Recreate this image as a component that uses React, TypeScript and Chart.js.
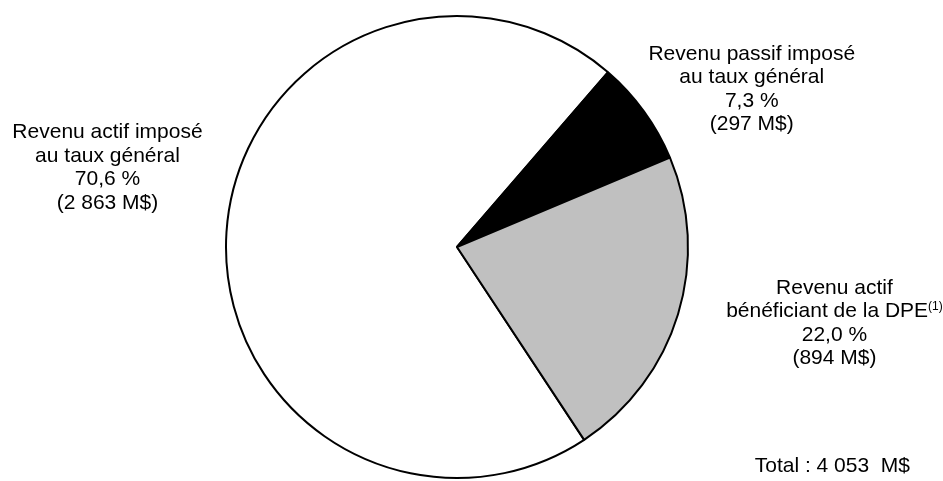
import React, { useEffect, useRef } from "react";
import { Chart, registerables } from "chart.js";

Chart.register(...registerables);

const categories = [
  "Revenu actif imposé au taux général",
  "Revenu passif imposé au taux général",
  "Revenu actif bénéficiant de la DPE",
];
const values = [2863, 297, 894];
const percentLabels = ["70,6 %", "7,3 %", "22,0 %"];
const amountLabels = ["(2 863 M$)", "(297 M$)", "(894 M$)"];
const nameLines = [
  ["Revenu actif imposé", "au taux général"],
  ["Revenu passif imposé", "au taux général"],
  ["Revenu actif", "bénéficiant de la DPE"],
];
const nameNotes = ["", "", "(1)"];
const totalLabel = "Total : 4 053  M$";

const colors = ["#ffffff", "#000000", "#c0c0c0"];
// label anchor offsets, as multiples of the pie radius from its centre
const labelAnchors = [
  [-1.513, -0.496],
  [1.276, -0.836],
  [1.634, 0.177],
];
const totalAnchor = [1.625, 0.95];

const FONT = "21px 'Liberation Sans', Arial, sans-serif";
const NOTE_FONT = "12px 'Liberation Sans', Arial, sans-serif";
const LINE_H = 23.6;

const labelPlugin = {
  id: "pieLabels",
  afterDraw(chart: any) {
    const meta = chart.getDatasetMeta(0);
    const arc = meta.data[0];
    if (!arc) return;
    const cx = arc.x;
    const cy = arc.y;
    const r = arc.outerRadius;
    const ctx = chart.ctx;
    ctx.save();
    ctx.fillStyle = "#000";
    ctx.textBaseline = "middle";
    categories.forEach((_, i) => {
      const x = cx + labelAnchors[i][0] * r;
      let y = cy + labelAnchors[i][1] * r;
      const lines = [...nameLines[i], percentLabels[i], amountLabels[i]];
      lines.forEach((line, j) => {
        const note = j === 1 ? nameNotes[i] : "";
        ctx.font = FONT;
        const w = ctx.measureText(line).width;
        let nw = 0;
        if (note) {
          ctx.font = NOTE_FONT;
          nw = ctx.measureText(note).width;
        }
        const start = x - (w + nw) / 2;
        ctx.font = FONT;
        ctx.textAlign = "left";
        ctx.fillText(line, start, y);
        if (note) {
          ctx.font = NOTE_FONT;
          ctx.fillText(note, start + w, y - 5);
        }
        y += LINE_H;
      });
    });
    ctx.font = FONT;
    ctx.textAlign = "center";
    ctx.fillText(totalLabel, cx + totalAnchor[0] * r, cy + totalAnchor[1] * r);
    ctx.restore();
  },
};

export default function App() {
  const ref = useRef<HTMLCanvasElement | null>(null);
  useEffect(() => {
    if (!ref.current) return;
    const chart = new Chart(ref.current, {
      type: "pie",
      data: {
        labels: categories,
        datasets: [
          {
            data: values,
            backgroundColor: colors,
            borderColor: "#000000",
            borderWidth: 2,
          },
        ],
      },
      options: {
        responsive: false,
        animation: false,
        rotation: 146.6,
        layout: { padding: { left: 225, right: 254, top: 15, bottom: 2 } },
        plugins: {
          legend: { display: false },
          tooltip: { enabled: false },
        },
      },
      plugins: [labelPlugin],
    });
    return () => chart.destroy();
  }, []);
  return (
    <div style={{ position: "absolute", left: 0, top: 0, width: 943, height: 481, background: "#fff" }}>
      <canvas ref={ref} width={943} height={481} />
    </div>
  );
}
